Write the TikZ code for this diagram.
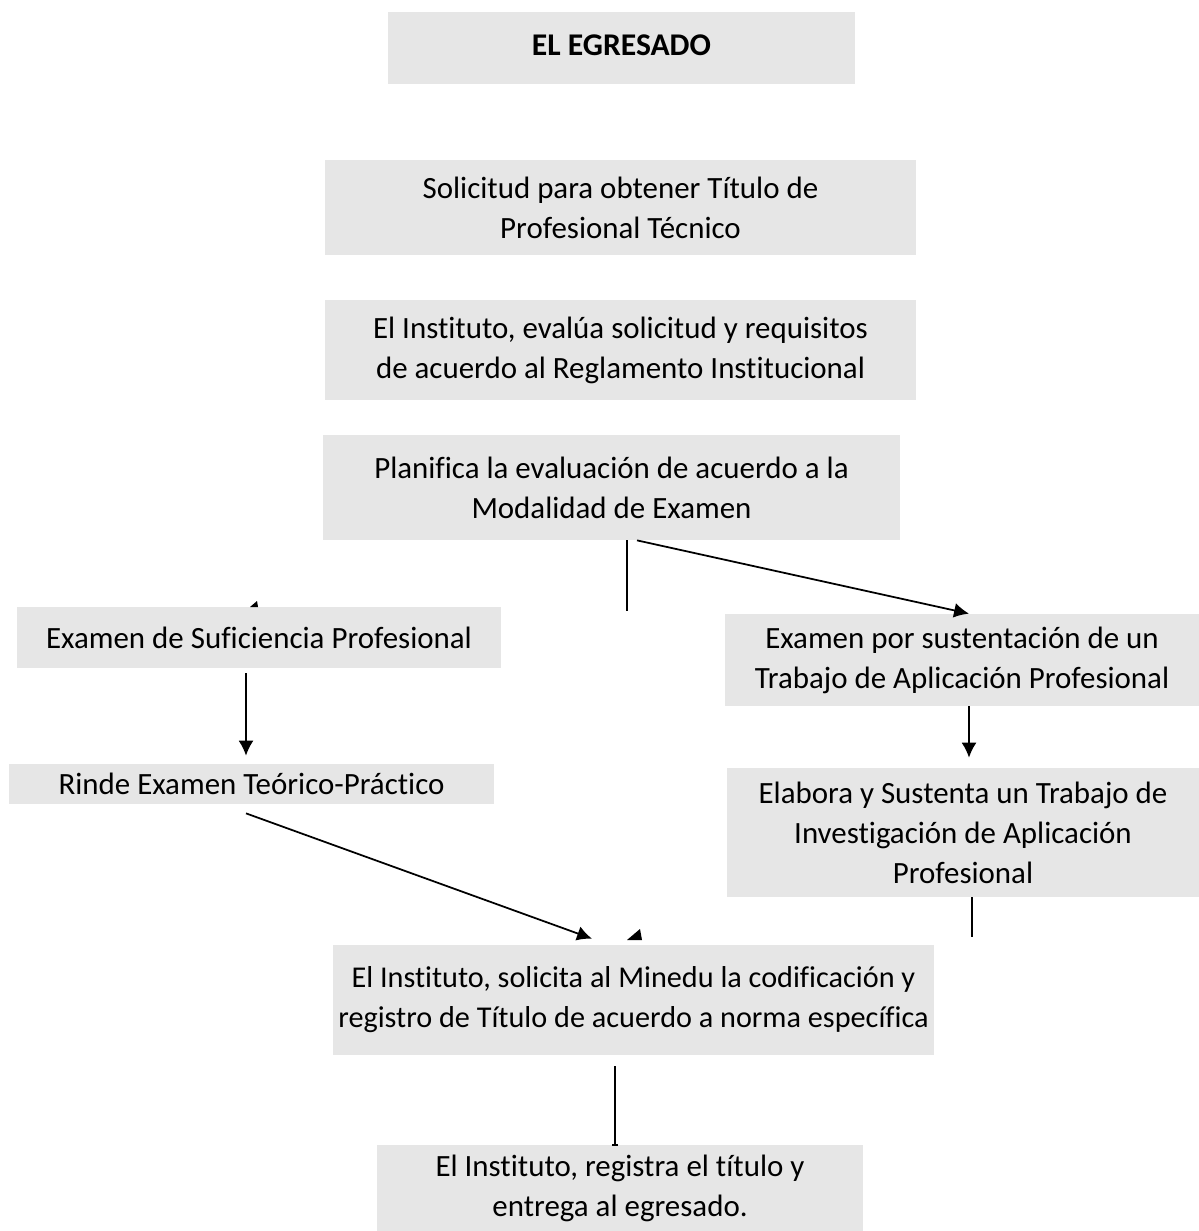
\documentclass[tikz,border=0pt]{standalone}
\usepackage{fontspec}
\setmainfont{Carlito}[Ligatures=NoCommon]
\usepackage{tikz}
\usetikzlibrary{calc}
\usetikzlibrary{arrows.meta}
\definecolor{boxgray}{HTML}{E6E6E6}
\tikzset{
  stepbox/.style={fill=boxgray, inner sep=0pt, align=center,
      font=\fontsize{17.6}{22.7}\selectfont},
  arr/.style={line width=1pt, -{Latex[length=8.5pt,width=8.5pt]}},
  ln/.style={line width=1pt},
}
\begin{document}
\begin{tikzpicture}[x=0.02cm,y=-0.02cm]
      \useasboundingbox (0,0) rectangle (1199,1231);

      % boxes
      \node [stepbox, minimum width=467*0.02cm, text height=0.86cm, text depth=0.58cm,
        font=\fontsize{18}{22.7}\selectfont\bfseries] (egresado) at (621.5,48) {EL EGRESADO};
      \node [stepbox, minimum width=591*0.02cm, minimum height=95*0.02cm] (solicitud) at (620.5,207.5)
      {Solicitud para obtener Título de\\Profesional Técnico};
      \node [stepbox, minimum width=591*0.02cm, minimum height=100*0.02cm] (evalua) at (620.5,350)
      {El Instituto, evalúa solicitud y requisitos\\de acuerdo al Reglamento Institucional};
      \node [stepbox, minimum width=577*0.02cm, minimum height=105*0.02cm] (planifica) at (611.5,487.5)
      {Planifica la evaluación de acuerdo a la\\Modalidad de Examen};
      \node [stepbox, minimum width=484*0.02cm, minimum height=61*0.02cm] (suficiencia) at (259,637.5)
      {Examen de Suficiencia Profesional};
      \node [stepbox, minimum width=474*0.02cm, minimum height=92*0.02cm] (sustentacion) at (962,660)
      {Examen por sustentación de un\\Trabajo de Aplicación Profesional};
      \node [stepbox, minimum width=485*0.02cm, minimum height=40*0.02cm] (rinde) at (251.5,784)
      {Rinde Examen Teórico-Práctico};
      \node [stepbox, minimum width=472*0.02cm, minimum height=129*0.02cm] (elabora) at (963,832.5)
      {Elabora y Sustenta un Trabajo de\\Investigación de Aplicación\\Profesional};
      \node [stepbox, minimum width=601*0.02cm, minimum height=110*0.02cm,
        font=\fontsize{17.2}{22.7}\selectfont] (solicita) at (633.5,1000)
      {El Instituto, solicita al Minedu la codificación y\\registro de Título de acuerdo a norma específica};
      \node [stepbox, minimum width=486*0.02cm, minimum height=86*0.02cm] (registra) at (620,1188)
      {El Instituto, registra el título y\\entrega al egresado.};

      % connectors
      \coordinate (xmid) at (627,611);
      \coordinate (xleft) at (246,0);
      \coordinate (xright) at (969,0);
      \coordinate (xbot) at (615,0);

      \draw [ln] (planifica.south -| xmid) -- (xmid);
      \fill (250,607) -- (258,607) -- (257,601) -- cycle;

      \draw [arr] (planifica.south -| 637,0) -- (sustentacion.north -| xright);

      \draw [arr] ($(suficiencia.south -| xleft)+(0,5)$) -- ($(rinde.north -| xleft)+(0,-8)$);
      \draw [arr] ($(sustentacion.south -| xright)$) -- ($(elabora.north -| xright)+(0,-10)$);

      \draw [arr] ($(rinde.south -| xleft)+(0,9)$) -- ($(solicita.north -| 592,0)+(0,-6)$);
      \fill (627,940) -- (642,940) -- (640,929) -- cycle;

      \draw [ln] (elabora.south -| 972,0) -- ($(elabora.south -| 972,0)+(0,40)$);

      \draw [ln] ($(solicita.south -| xbot)+(0,11)$) -- (registra.north -| xbot);
      \draw [ln] ($(registra.north -| xbot)+(-3,0)$) -- ($(registra.north -| xbot)+(3,0)$);
\end{tikzpicture}
\end{document}
